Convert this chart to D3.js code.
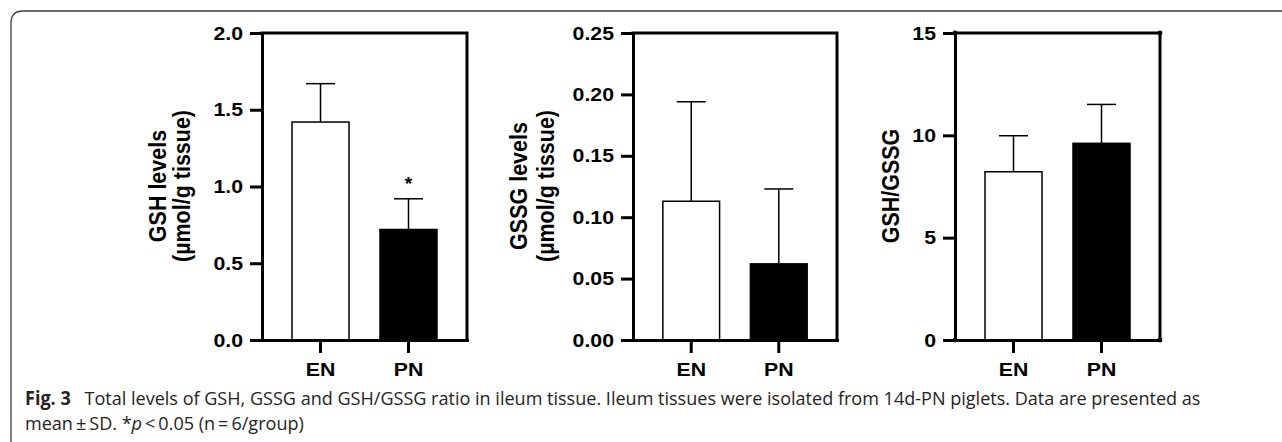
<!DOCTYPE html>
<html>
<head>
<meta charset="utf-8">
<script src="https://cdn.jsdelivr.net/npm/d3@7"></script>
<style>
  body { margin: 0; background: #fff; }
  svg { display: block; }
</style>
</head>
<body>
<svg id="fig" width="1282" height="442"></svg>
<script>
// data
const groups = ["EN", "PN"];
const gshMean = [1.42, 0.72];
const gshSD = [0.25, 0.20];
const gssgMean = [0.113, 0.062];
const gssgSD = [0.081, 0.061];
const ratioMean = [8.22, 9.61];
const ratioSD = [1.76, 1.90];
const gshTicks = [0, 0.5, 1.0, 1.5, 2.0];
const gssgTicks = [0, 0.05, 0.10, 0.15, 0.20, 0.25];
const ratioTicks = [0, 5, 10, 15];

const yTop = 33, yBottom = 340, yMid = 186;
const stretch = 1.12;
const font = "'Liberation Sans', Arial, Helvetica, sans-serif";

const svg = d3.select("#fig");

// outer frame (only left and top edges are visible)
svg.append("path")
  .attr("d", "M11,442 V23 Q11,11 23,11 H1282")
  .attr("fill", "none")
  .attr("stroke", "#3c3c3c")
  .attr("stroke-width", 1.3);

function panel(opt) {
  const g = svg.append("g");
  const x = d3.scaleBand().domain(groups)
    .range([opt.x0, opt.x1])
    .paddingInner(0.352).paddingOuter(0.341);
  const y = d3.scaleLinear()
    .domain([0, opt.ticks[opt.ticks.length - 1]])
    .range([yBottom, yTop]);
  const cx = d => x(d) + x.bandwidth() / 2;

  // bars
  g.selectAll(".bar").data(groups).join("rect")
    .attr("x", d => x(d))
    .attr("y", (d, i) => y(opt.mean[i]))
    .attr("width", x.bandwidth())
    .attr("height", (d, i) => yBottom - y(opt.mean[i]))
    .attr("fill", (d, i) => i ? "#000" : "#fff")
    .attr("stroke", "#000")
    .attr("stroke-width", 1.5);

  // error bars (upper only)
  g.selectAll(".err").data(groups).join("line")
    .attr("x1", cx).attr("x2", cx)
    .attr("y1", (d, i) => y(opt.mean[i]))
    .attr("y2", (d, i) => y(opt.mean[i] + opt.sd[i]))
    .attr("stroke", "#000").attr("stroke-width", 1.5);
  g.selectAll(".cap").data(groups).join("line")
    .attr("x1", d => cx(d) - 14.5).attr("x2", d => cx(d) + 14.5)
    .attr("y1", (d, i) => y(opt.mean[i] + opt.sd[i]))
    .attr("y2", (d, i) => y(opt.mean[i] + opt.sd[i]))
    .attr("stroke", "#000").attr("stroke-width", 1.5);

  // box top + right
  g.append("path")
    .attr("d", `M${opt.x0},${yTop} H${opt.x1} V${yBottom}`)
    .attr("fill", "none").attr("stroke", "#000")
    .attr("stroke-width", 3).attr("stroke-linecap", "square");

  const yAxis = g.append("g")
    .attr("transform", `translate(${opt.x0},0)`)
    .call(d3.axisLeft(y).tickValues(opt.ticks)
      .tickFormat(d3.format(opt.fmt))
      .tickSize(12).tickSizeOuter(0).tickPadding(7));
  yAxis.selectAll("text")
    .attr("x", 0)
    .attr("transform", `translate(-19,0) scale(${stretch},1)`);

  const xAxis = g.append("g")
    .attr("transform", `translate(0,${yBottom})`)
    .call(d3.axisBottom(x).tickSize(13).tickSizeOuter(0).tickPadding(10));
  xAxis.selectAll("text")
    .attr("transform", `scale(${stretch},1)`);

  [yAxis, xAxis].forEach(a => {
    a.select(".domain").attr("stroke", "#000").attr("stroke-width", 3)
      .attr("stroke-linecap", "square");
    a.selectAll(".tick line").attr("stroke", "#000").attr("stroke-width", 3);
    a.selectAll("text")
      .attr("fill", "#000")
      .style("font-family", font)
      .style("font-weight", "bold")
      .style("font-size", "19px");
  });

  // small corner dots, as in the right-hand panel of the original
  if (opt.dots) {
    g.selectAll(".dot")
      .data([[opt.x0, yTop], [opt.x1, yTop], [opt.x1, yBottom], [opt.x0, yBottom]])
      .join("circle")
      .attr("cx", d => d[0]).attr("cy", d => d[1]).attr("r", 2.4)
      .attr("fill", "#000");
  }

  // y title lines
  opt.title.forEach((t, k) => {
    g.append("text")
      .attr("transform", `translate(${opt.titleX[k]},${yMid}) scale(${stretch},1) rotate(-90)`)
      .attr("text-anchor", "middle")
      .style("font-family", font)
      .style("font-weight", "bold")
      .style("font-size", "21.5px")
      .text(t);
  });

  if (opt.star) {
    g.append("text")
      .attr("x", cx(opt.star))
      .attr("y", y(opt.mean[1] + opt.sd[1]) - 9)
      .attr("text-anchor", "middle")
      .style("font-family", font)
      .style("font-weight", "bold")
      .style("font-size", "19px")
      .text("*");
  }
}

panel({ x0: 262, x1: 467, mean: gshMean, sd: gshSD, ticks: gshTicks, fmt: ".1f",
  title: ["GSH levels", "(\u00b5mol/g tissue)"], titleX: [166, 190], star: "PN" });
panel({ x0: 633, x1: 837, mean: gssgMean, sd: gssgSD, ticks: gssgTicks, fmt: ".2f",
  title: ["GSSG levels", "(\u00b5mol/g tissue)"], titleX: [527, 554] });
panel({ x0: 955, x1: 1160, mean: ratioMean, sd: ratioSD, ticks: ratioTicks, fmt: "d",
  title: ["GSH/GSSG"], titleX: [899], dots: true });

// caption
const cap = svg.append("g")
  .style("font-family", "'Open Sans', 'Noto Sans', sans-serif")
  .style("font-size", "19px")
  .attr("fill", "#262223");
const line1 = cap.append("text").attr("x", 0).attr("y", 0);
line1.append("tspan").style("font-weight", "bold").text("Fig.\u00a03");
line1.append("tspan").text("\u2002 Total levels of GSH, GSSG and GSH/GSSG ratio in ileum tissue. Ileum tissues were isolated from 14d-PN piglets. Data are presented as");
const line2 = cap.append("text").attr("x", 0).attr("y", 0);
line2.append("tspan").text("mean\u2009\u00b1\u2009SD. *");
line2.append("tspan").style("font-style", "italic").text("p");
line2.append("tspan").text("\u2009<\u20090.05 (n\u2009=\u20096/group)");

const k = 1177 / line1.node().getComputedTextLength();
line1.attr("transform", `translate(25,405) scale(${k},1)`);
line2.attr("transform", `translate(25,430) scale(${k},1)`);
</script>
</body>
</html>
